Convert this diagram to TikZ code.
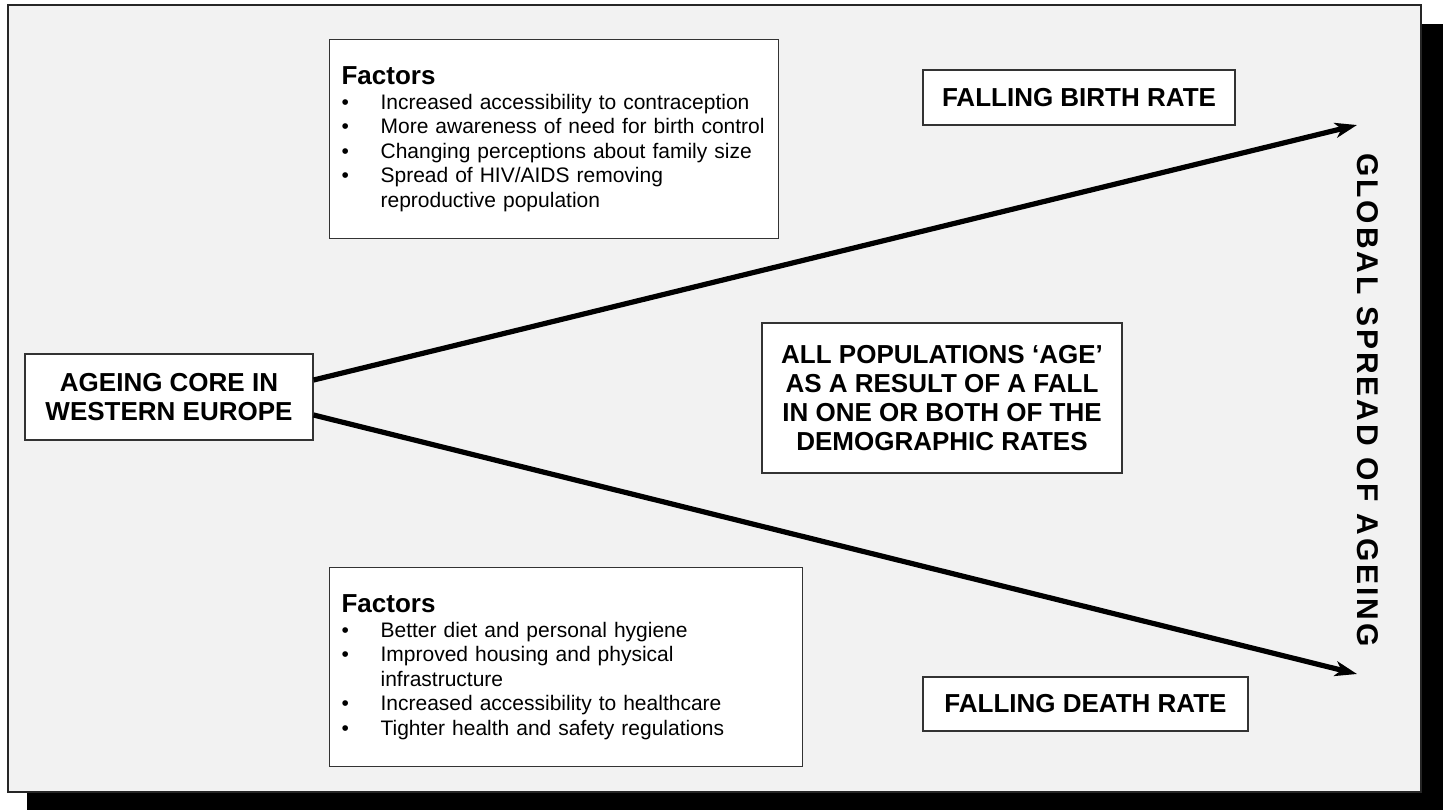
\documentclass[tikz,border=0pt]{standalone}
\usepackage{fontspec}
\setmainfont{Liberation Sans}
\newfontfamily\spacedfont[LetterSpace=10]{Liberation Sans}
\usetikzlibrary{arrows.meta}
\tikzset{every picture/.style={x=0.5pt, y=-0.5pt},
  box/.style={draw=black!80, fill=white, line width=0.6pt, inner sep=0pt},
  capsbox/.style={box, font=\fontsize{13}{14.5}\selectfont\bfseries, align=center},
  factorbox/.style={box, anchor=north west, align=left, font=\fontsize{10.5}{12.25}\selectfont, inner xsep=6pt, minimum height=99.5pt},
  spreadline/.style={-{Stealth[length=11pt,width=7.5pt,inset=3pt]}, line width=2.6pt}}
\newcommand{\bul}{\makebox[19.5pt][l]{\textbullet}}
\newcommand{\factorshead}{{\fontsize{13}{13}\selectfont\bfseries Factors}}

\begin{document}
\begin{tikzpicture}
  \useasboundingbox (0,0) rectangle (1448,810);
  % shadow and panel
  \fill[black] (27,24) rectangle (1443,810);
  \draw[fill=gray!10, draw=black!85, line width=1pt] (8,5) rectangle (1421,792);

  \node[capsbox, minimum width=144pt, minimum height=43pt] (core) at (169,397) {AGEING CORE IN\\WESTERN EUROPE};
  \node[capsbox, minimum width=156pt, minimum height=27.5pt] (birth) at (1079,97.5) {FALLING BIRTH RATE};
  \node[capsbox, minimum width=162.5pt, minimum height=27pt] (death) at (1085.5,704) {FALLING DEATH RATE};
  \node[capsbox, minimum width=180pt, minimum height=75pt] (result) at (942,398) {ALL POPULATIONS `AGE'\\AS A RESULT OF A FALL\\IN ONE OR BOTH OF THE\\DEMOGRAPHIC RATES};
  \node[factorbox, text width=212.5pt] (birthfactors) at (329,39) {\factorshead\\
    \bul Increased accessibility to contraception\\
    \bul More awareness of need for birth control\\
    \bul Changing perceptions about family size\\
    \bul Spread of HIV/AIDS removing\\
    \hspace*{19.5pt}reproductive population};
  \node[factorbox, text width=224.5pt] (deathfactors) at (329,567) {\factorshead\\
    \bul Better diet and personal hygiene\\
    \bul Improved housing and physical\\
    \hspace*{19.5pt}infrastructure\\
    \bul Increased accessibility to healthcare\\
    \bul Tighter health and safety regulations};
  \node[rotate=-90, font=\fontsize{15}{15}\spacedfont\bfseries] (global) at (1368,400) {GLOBAL SPREAD OF AGEING};

  \coordinate (birthtip) at (1357,125);
  \coordinate (deathtip) at (1357,674);
  \draw[spreadline] ([yshift=8.5pt]core.east) -- (birthtip);
  \draw[spreadline] ([yshift=-9pt]core.east) -- (deathtip);
\end{tikzpicture}
\end{document}
